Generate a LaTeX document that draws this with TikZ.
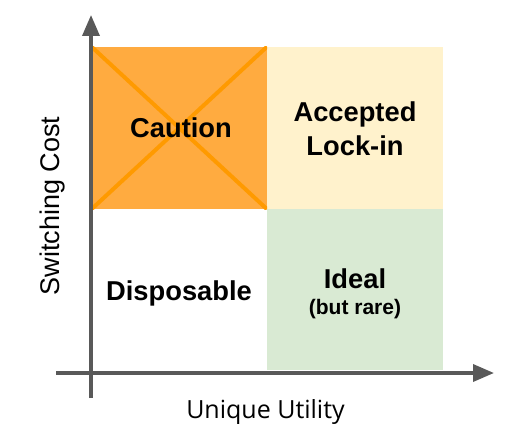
\documentclass[tikz,border=0pt]{standalone}
\usepackage{fontspec}
\setmainfont{Liberation Sans}
\newfontfamily\labelfont{Open Sans}
\usetikzlibrary{arrows.meta}
\definecolor{axisgray}{HTML}{595959}
\definecolor{cautionfill}{HTML}{FFAB40}
\definecolor{cautionline}{HTML}{FF9A00}
\definecolor{acceptfill}{HTML}{FFF2CC}
\definecolor{idealfill}{HTML}{D9EAD3}
\tikzset{
  quad/.style={draw=none, inner sep=0pt, outer sep=0pt, anchor=north west,
    minimum width=175.5pt, minimum height=162.5pt},
  title/.style={font=\bfseries\fontsize{27.3}{32}\selectfont, anchor=base, inner sep=0pt},
  subtitle/.style={font=\bfseries\fontsize{21}{25}\selectfont, anchor=base, inner sep=0pt},
  axis/.style={draw=axisgray, line width=3.5pt},
  axisarrow/.style={axis, -{Triangle[length=21pt, width=17pt]}},
}
\begin{document}
\begin{tikzpicture}[x=1pt, y=-1pt]
\useasboundingbox (0,0) rectangle (524,436);
% quadrants
\node[quad, fill=cautionfill] (caution) at (91.5,46.7) {};
\node[quad, fill=acceptfill] (accept) at (267,46.7) {};
\node[quad, fill=idealfill, minimum height=161pt] (ideal) at (267,209.2) {};
% cross on caution
\begin{scope}
\clip (caution.north west) rectangle (caution.south east);
\draw[cautionline, line width=4pt] (caution.north west) -- (caution.south east);
\draw[cautionline, line width=4pt] (caution.north east) -- (caution.south west);
\end{scope}
% texts
\node[title] (tcaution) at (181,137) {Caution};
\node[title] (tacc1) at (355,121) {Accepted};
\node[title] (tacc2) at (355,155.5) {Lock-in};
\node[title] (tdisp) at (179,300.7) {Disposable};
\node[title] (tideal) at (355,288) {Ideal};
\node[subtitle] (tideal2) at (355,314.5) {(but rare)};
% axes
\coordinate (yb) at (91,398);
\coordinate (yt) at (91,15);
\coordinate (xl) at (56,373);
\coordinate (xr) at (494,373);
\draw[axisarrow] (yb) -- (yt);
\draw[axisarrow] (xl) -- (xr);
% axis labels
\node[font=\labelfont\fontsize{25}{30}\selectfont, anchor=base, inner sep=0pt] (xlabel) at (265.5,418) {Unique Utility};
\node[font=\fontsize{27}{32}\selectfont, rotate=90, inner sep=0pt] (ylabel) at (53,206) {Switching Cost};
\end{tikzpicture}
\end{document}
